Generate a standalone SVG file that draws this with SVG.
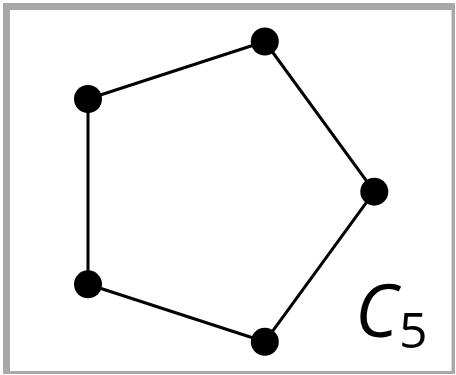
<svg xmlns="http://www.w3.org/2000/svg" width="456" height="375" viewBox="0 0 456 375">
<style>
.edge{stroke:#000;stroke-width:3;fill:none}
.node{fill:#000}
.lbl{font-family:"Open Sans","DejaVu Sans",sans-serif;fill:#000}
</style>
<rect x="3" y="3" width="452" height="371" fill="#a8a8a8"/>
<rect x="10" y="10" width="441.5" height="361" fill="#fff"/>
<g id="edges">
<line class="edge" x1="264.8" y1="41.5" x2="374.3" y2="191.7"/>
<line class="edge" x1="374.3" y1="191.7" x2="264.8" y2="341.8"/>
<line class="edge" x1="264.8" y1="341.8" x2="88" y2="284.3"/>
<line class="edge" x1="88" y1="284.3" x2="88" y2="99"/>
<line class="edge" x1="88" y1="99" x2="264.8" y2="41.5"/>
</g>
<g id="n1"><circle class="node" cx="264.8" cy="41.5" r="14"/></g>
<g id="n2"><circle class="node" cx="374.3" cy="191.7" r="14"/></g>
<g id="n3"><circle class="node" cx="264.8" cy="341.8" r="14"/></g>
<g id="n4"><circle class="node" cx="88" cy="284.3" r="14"/></g>
<g id="n5"><circle class="node" cx="88" cy="99" r="14"/></g>
<g id="label"><text class="lbl" x="355" y="337" font-size="73" font-style="italic">C<tspan font-style="normal" font-size="50" dy="11" dx="1">5</tspan></text></g>
</svg>
